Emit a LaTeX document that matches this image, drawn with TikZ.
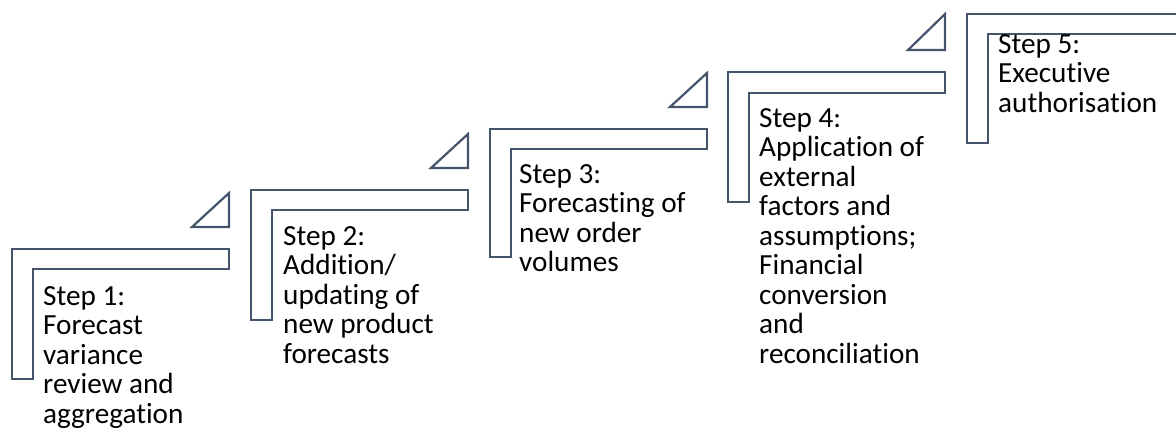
\documentclass[tikz,border=0pt]{standalone}
\usepackage{fontspec}
\setmainfont{Carlito}[Ligatures=NoCommon]
\usepackage{tikz}
\definecolor{slate}{HTML}{44546A}
\begin{document}
\begin{tikzpicture}[x=1pt,y=-1pt,
  stair/.style={draw=slate,line width=2.2pt,line join=miter},
  tri/.style={draw=slate,line width=2.2pt,line join=miter},
  lbl/.style={anchor=base west,inner sep=0pt,align=left,
              font=\fontsize{29.2}{29.5}\selectfont}]
\useasboundingbox (0,0) rectangle (1176,439);
\clip (0,0) rectangle (1176,439);
% steps, lower left to upper right (label placed by its last line)
\draw[stair] (12,249)--(229,249)--(229,269)--(33,269)--(33,379)--(12,379)--cycle;
\draw[tri] (192,227)--(229,227)--(229,193)--cycle;
\node[lbl] (step1) at (43,423) {Step 1:\\Forecast\\variance\\review and\\aggregation};
\draw[stair] (251,190)--(468,190)--(468,210)--(272,210)--(272,320)--(251,320)--cycle;
\draw[tri] (431,168)--(468,168)--(468,134)--cycle;
\node[lbl] (step2) at (283,363) {Step 2:\\Addition/\\updating of\\new product\\forecasts};
\draw[stair] (490,129)--(707,129)--(707,149)--(511,149)--(511,257)--(490,257)--cycle;
\draw[tri] (670,107)--(707,107)--(707,73)--cycle;
\node[lbl] (step3) at (519,271.5) {Step 3:\\Forecasting of\\new order\\volumes};
\draw[stair] (728,72)--(945,72)--(945,93)--(749,93)--(749,202)--(728,202)--cycle;
\draw[tri] (908,50)--(945,50)--(945,14)--cycle;
\node[lbl] (step4) at (759,363) {Step 4:\\Application of\\external\\factors and\\assumptions;\\Financial\\conversion\\and\\reconciliation};
\draw[stair] (967,14)--(1184,14)--(1184,34)--(988,34)--(988,143)--(967,143)--cycle;
\node[lbl] (step5) at (998,112) {Step 5:\\Executive\\authorisation};
\end{tikzpicture}
\end{document}
